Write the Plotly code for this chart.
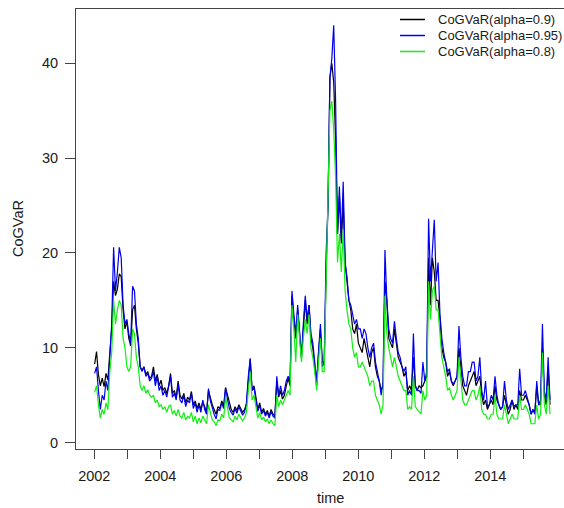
import pandas as pd
import plotly.graph_objects as go

# time grid: roughly 3-week observations from early 2002 to late 2015 (decimal years)
n_obs = 241
t_start = 2002.01
t_step = 0.0575
time = [round(t_start + i * t_step, 4) for i in range(n_obs)]

cogvar_090 = [
    8.3, 9.6, 7.2, 6.0, 6.8, 5.9, 7.3, 6.6, 9.5, 12.0,
    17.0, 15.5, 16.2, 17.8, 17.5, 14.0, 12.0, 12.8, 11.0, 10.2,
    14.0, 14.5, 12.0, 10.5, 8.0, 7.6, 8.0, 7.2, 7.5, 6.8,
    7.0, 8.0, 6.5, 7.2, 6.0, 6.6, 5.5, 5.8, 5.2, 6.0,
    7.3, 5.2, 5.5, 4.8, 6.5, 5.0, 4.6, 5.2, 4.2, 4.8,
    4.5, 5.4, 4.0, 4.4, 3.6, 4.2, 3.5, 4.3, 3.8, 3.2,
    5.5, 4.6, 4.0, 3.5, 3.0, 3.8, 3.6, 4.4, 3.9, 5.8,
    5.0, 4.0, 3.5, 3.2, 3.8, 3.4, 4.0, 3.6, 3.2, 3.5,
    4.0, 6.5, 8.8, 5.5, 6.0, 4.8, 3.5, 4.2, 3.2, 3.6,
    3.0, 3.4, 2.8, 3.5, 3.0, 2.8, 6.5, 4.8, 5.5, 4.6,
    5.0, 6.0, 6.8, 6.0, 15.5, 13.0, 11.0, 14.0, 11.5, 9.0,
    12.0, 15.0, 12.5, 14.5, 11.0, 10.0, 8.0, 6.0, 9.5, 12.0,
    8.5, 8.5, 18.0, 25.0, 38.5, 40.0, 38.0, 32.0, 22.0, 26.0,
    21.0, 25.5, 19.0, 17.0, 15.0, 14.0, 12.0, 11.5, 12.5, 10.5,
    10.0, 9.5, 11.0, 10.0, 9.0, 8.0, 9.5, 10.0, 8.0, 7.0,
    6.5, 5.5, 6.0, 17.0, 15.0, 11.0, 10.5, 10.0, 12.0, 10.5,
    9.0, 8.5, 8.0, 7.0, 7.5, 5.5, 6.0, 5.5, 9.0, 6.0,
    5.5, 6.0, 5.8, 6.0, 6.5, 7.0, 19.5, 14.5, 19.5, 18.0,
    15.0, 15.0, 13.0, 10.0, 9.0, 8.5, 7.0, 7.5, 6.5, 6.0,
    6.5, 7.0, 10.0, 8.0, 6.0, 5.5, 5.0, 6.0, 6.5, 7.0,
    7.5, 6.0, 6.5, 7.0, 5.0, 4.0, 4.5, 3.5, 4.0, 4.5,
    4.0, 6.0, 4.5, 4.0, 3.5, 3.8, 5.0, 4.0, 3.0, 3.5,
    4.5, 3.5, 4.0, 3.5, 5.5, 4.5, 4.5, 5.0, 4.5, 4.0,
    3.0, 3.5, 3.2, 6.0, 4.0, 4.0, 10.0, 5.0, 4.0, 8.0, 4.0,
]

cogvar_095 = [
    7.3, 8.0, 5.5, 3.5, 5.0, 4.5, 6.5, 5.5, 9.0, 12.5,
    20.6, 16.0, 18.0, 20.6, 19.5, 14.5, 12.5, 13.0, 11.5, 10.5,
    16.5, 16.0, 12.5, 11.0, 8.0, 7.5, 8.0, 7.0, 7.3, 6.5,
    6.8, 7.5, 6.0, 7.0, 5.5, 6.0, 5.0, 5.5, 4.8, 5.8,
    7.0, 4.8, 5.2, 4.5, 6.2, 4.5, 4.2, 5.0, 3.8, 4.5,
    4.2, 5.2, 3.6, 4.2, 3.2, 4.0, 3.2, 4.5, 3.5, 3.0,
    5.7, 4.4, 3.6, 3.0, 2.5, 3.5, 3.4, 4.2, 3.6, 5.8,
    4.6, 3.6, 3.2, 2.9, 3.6, 3.1, 3.8, 3.3, 2.9, 3.2,
    4.2, 7.0, 8.9, 5.5, 5.8, 4.5, 3.3, 4.0, 3.0, 3.4,
    2.8, 3.2, 2.6, 3.3, 2.8, 2.6, 7.0, 5.0, 6.0, 5.0,
    5.5, 6.5, 7.0, 6.5, 16.0, 13.5, 11.5, 14.5, 11.8, 9.0,
    12.5, 15.5, 13.0, 14.5, 11.5, 10.5, 8.5, 6.5, 9.5, 12.5,
    8.0, 8.5, 20.0, 25.0, 38.5, 40.5, 44.0, 36.0, 22.0, 27.0,
    21.5, 27.5, 19.0, 17.5, 15.0, 14.5, 13.5, 12.5, 13.0, 12.0,
    12.0, 11.0, 12.0, 11.5, 10.0, 9.0, 10.0, 10.5, 8.5, 7.5,
    6.5, 5.0, 6.5, 20.3, 15.0, 12.0, 11.0, 10.5, 12.8, 11.0,
    9.5, 9.0, 8.0, 7.5, 8.0, 5.0, 5.5, 5.0, 11.5, 6.0,
    5.5, 5.5, 5.2, 8.5, 6.5, 7.5, 23.6, 17.0, 20.0, 23.5,
    17.0, 19.0, 13.5, 11.0, 9.5, 8.5, 7.5, 7.8, 6.5, 6.2,
    6.5, 7.0, 12.3, 9.0, 7.0, 6.0, 6.0, 7.5, 7.5, 8.5,
    8.5, 6.5, 7.0, 9.0, 5.5, 4.5, 6.5, 3.8, 4.0, 5.0,
    4.5, 7.0, 5.0, 4.0, 3.5, 3.8, 6.5, 4.5, 3.5, 4.0,
    4.5, 3.8, 4.0, 4.0, 7.8, 5.0, 5.0, 5.5, 4.8, 4.0,
    3.0, 3.5, 3.0, 6.5, 4.0, 4.5, 12.5, 5.5, 4.5, 9.0, 4.5,
]

cogvar_080 = [
    5.3, 6.0, 4.0, 2.6, 3.5, 3.0, 4.2, 3.5, 7.5, 9.5,
    15.0, 12.5, 14.0, 15.0, 14.5, 11.0, 10.0, 8.0, 7.5, 8.0,
    12.0, 11.5, 9.0, 8.0, 6.0, 5.5, 6.0, 5.2, 5.6, 5.0,
    4.8, 5.0, 4.2, 4.5, 3.8, 4.0, 3.5, 3.8, 3.2, 3.8,
    4.0, 3.0, 3.4, 2.8, 3.5, 2.8, 2.6, 3.2, 2.4, 2.8,
    2.6, 3.2, 2.2, 2.8, 2.0, 2.6, 2.1, 2.8, 2.4, 2.0,
    4.0, 3.0, 2.4, 2.2, 1.8, 2.4, 2.3, 3.0, 2.6, 4.8,
    3.5, 2.6, 2.4, 2.2, 2.8, 2.4, 3.0, 2.6, 2.3, 2.6,
    3.2, 5.5, 7.5, 4.5, 5.0, 3.8, 2.6, 3.2, 2.4, 2.7,
    2.2, 2.5, 2.0, 2.4, 2.0, 1.8, 5.0, 3.8, 4.5, 4.0,
    4.5, 5.0, 5.5, 5.0, 14.5, 12.0, 8.5, 13.5, 10.5, 8.5,
    11.0, 13.0, 11.5, 13.5, 10.0, 9.0, 7.5, 5.5, 8.5, 11.0,
    7.5, 7.5, 17.0, 25.0, 35.0, 36.0, 33.0, 28.0, 19.0, 22.0,
    18.0, 22.5, 16.0, 14.0, 12.5, 12.0, 10.0, 9.0, 9.5, 8.0,
    8.0, 8.5, 8.0, 7.5, 7.0, 6.0, 6.5, 6.5, 5.0, 4.5,
    4.0, 3.0, 4.0, 15.5, 11.5, 10.0, 9.0, 8.0, 9.0, 8.0,
    7.0, 6.5, 6.0, 5.5, 5.5, 3.5, 3.8, 3.5, 7.0, 3.8,
    3.5, 3.2, 3.0, 5.5, 4.5, 5.0, 17.0, 13.0, 16.0, 16.5,
    14.0, 14.0, 11.5, 9.0, 8.0, 7.0, 5.5, 5.8, 5.0, 4.5,
    5.0, 5.5, 9.0, 6.5, 4.5, 4.0, 4.0, 4.5, 5.0, 5.5,
    5.5, 4.5, 5.0, 6.0, 3.5, 3.0, 3.0, 2.5, 2.5, 3.0,
    3.0, 5.0, 3.0, 2.5, 2.5, 2.5, 4.0, 3.0, 2.0, 2.5,
    3.0, 2.5, 2.5, 2.5, 5.0, 3.5, 3.5, 4.0, 3.5, 3.0,
    2.0, 2.0, 2.0, 4.0, 2.5, 3.0, 9.5, 4.0, 3.0, 6.0, 3.0,
]

series_names = ["CoGVaR(alpha=0.9)", "CoGVaR(alpha=0.95)", "CoGVaR(alpha=0.8)"]
series_colors = ["#000000", "#0000EE", "#11EE11"]
year_ticks = list(range(2002, 2016))
year_labels = [str(y) if y % 2 == 0 else "" for y in year_ticks]
y_ticks = [0, 10, 20, 30, 40]

df = pd.DataFrame({"time": time, "a090": cogvar_090, "a095": cogvar_095, "a080": cogvar_080})

FONT = "Liberation Sans, Arial, sans-serif"
TXT = "#1a1a1a"
AX = "#444444"

fig = go.Figure()
for col, name, color in zip(["a090", "a095", "a080"], series_names, series_colors):
    fig.add_trace(go.Scatter(x=df["time"], y=df[col], mode="lines", name=name,
                             line=dict(color=color, width=1.2), showlegend=False))

# plot-area geometry (px) for annotation placement
L, R, T, B = 76, 0, 9, 59
W, H = 564, 508
pw = W - L - R
ph = H - T - B

def px_x(px):
    return (px - L) / pw

def px_y(py):
    return 1 - (py - T) / ph

shapes = []
annotations = []
leg_rows = [19.5, 35.5, 51.5]
for name, color, ry in zip(series_names, series_colors, leg_rows):
    shapes.append(dict(type="line", xref="paper", yref="paper",
                       x0=px_x(400), x1=px_x(425), y0=px_y(ry), y1=px_y(ry),
                       line=dict(color=color, width=1.5)))
    annotations.append(dict(text=name, xref="paper", yref="paper",
                            x=px_x(436), y=px_y(ry), xanchor="left", yanchor="middle",
                            showarrow=False, font=dict(family=FONT, size=13, color=TXT)))

annotations.append(dict(text="time", xref="paper", yref="paper",
                        x=px_x(330), y=px_y(498), xanchor="center", yanchor="middle",
                        showarrow=False, font=dict(family=FONT, size=14.5, color=TXT)))
annotations.append(dict(text="CoGVaR", xref="paper", yref="paper", textangle=-90,
                        x=px_x(18), y=px_y(229), xanchor="center", yanchor="middle",
                        showarrow=False, font=dict(family=FONT, size=14.5, color=TXT)))

fig.update_layout(
    width=W, height=H,
    margin=dict(l=L, r=R, t=T, b=B, pad=0),
    paper_bgcolor="white", plot_bgcolor="white",
    font=dict(family=FONT, size=14, color=TXT),
    shapes=shapes, annotations=annotations,
    showlegend=False,
    xaxis=dict(range=[2001.4455, 2016.2333], tickmode="array", tickvals=year_ticks,
               ticktext=year_labels, ticks="outside", ticklen=9, tickwidth=1, tickcolor=AX,
               showline=True, linecolor=AX, linewidth=1, mirror=True,
               showgrid=False, zeroline=False, ticklabelstandoff=5,
               tickfont=dict(family=FONT, size=14.5, color=TXT)),
    yaxis=dict(range=[-0.664, 45.72], tickmode="array", tickvals=y_ticks,
               ticks="outside", ticklen=10, tickwidth=1, tickcolor=AX,
               showline=True, linecolor=AX, linewidth=1, mirror=False,
               showgrid=False, zeroline=False, ticklabelstandoff=4,
               tickfont=dict(family=FONT, size=14.5, color=TXT)),
)

fig.write_html("out.html")
